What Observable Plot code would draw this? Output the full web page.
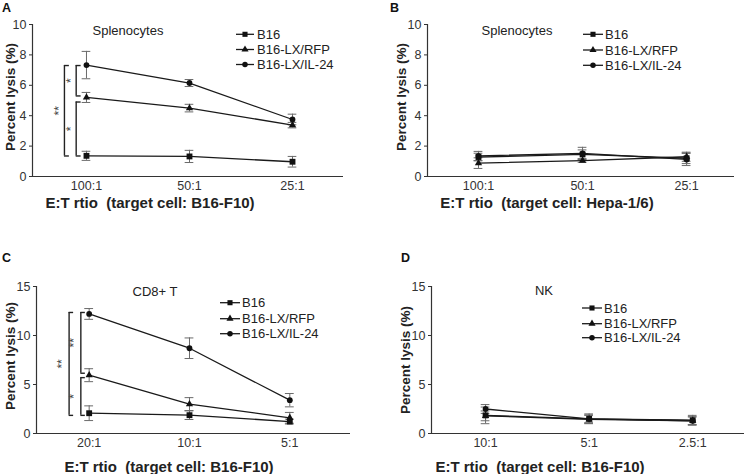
<!DOCTYPE html>
<html>
<head>
<meta charset="utf-8">
<script src="https://cdn.jsdelivr.net/npm/d3@7"></script>
<script src="https://cdn.jsdelivr.net/npm/@observablehq/plot@0.6"></script>
<style>
  html, body { margin: 0; padding: 0; background: #fff; }
  #root { position: relative; width: 745px; height: 474px; overflow: hidden; font-family: Arial, "Liberation Sans", sans-serif; }
  #root svg.plot { position: absolute; }
</style>
</head>
<body>
<div id="root"></div>
<script>
// ---------- data ----------
const seriesNames = ["B16", "B16-LX/RFP", "B16-LX/IL-24"];
const seriesSymbols = ["square", "triangle", "circle"];

// Panel A: splenocytes vs B16-F10
const ratiosA = ["100:1", "50:1", "25:1"];
const lysisA_B16  = [1.36, 1.32, 0.97];
const errA_B16    = [0.30, 0.40, 0.35];
const lysisA_RFP  = [5.20, 4.50, 3.38];
const errA_RFP    = [0.33, 0.25, 0.18];
const lysisA_IL24 = [7.33, 6.15, 3.75];
const errA_IL24   = [0.90, 0.23, 0.35];

// Panel B: splenocytes vs Hepa-1/6
const ratiosB = ["100:1", "50:1", "25:1"];
const lysisB_B16  = [1.28, 1.45, 1.20];
const errB_B16    = [0.25, 0.30, 0.35];
const lysisB_RFP  = [0.88, 1.05, 1.30];
const errB_RFP    = [0.35, 0.12, 0.30];
const lysisB_IL24 = [1.35, 1.52, 1.12];
const errB_IL24   = [0.30, 0.40, 0.40];

// Panel C: CD8+ T vs B16-F10
const ratiosC = ["20:1", "10:1", "5:1"];
const lysisC_B16  = [2.07, 1.87, 1.22];
const errC_B16    = [0.75, 0.44, 0.25];
const lysisC_RFP  = [5.95, 3.00, 1.60];
const errC_RFP    = [0.66, 0.66, 0.55];
const lysisC_IL24 = [12.2, 8.70, 3.40];
const errC_IL24   = [0.55, 1.05, 0.68];

// Panel D: NK vs B16-F10
const ratiosD = ["10:1", "5:1", "2.5:1"];
const lysisD_B16  = [1.85, 1.50, 1.35];
const errD_B16    = [0.85, 0.50, 0.50];
const lysisD_RFP  = [1.80, 1.45, 1.30];
const errD_RFP    = [0.50, 0.40, 0.40];
const lysisD_IL24 = [2.50, 1.50, 1.30];
const errD_IL24   = [0.45, 0.40, 0.40];

// significance brackets (y-levels in % lysis)
const sigA_from  = [7.3, 4.9, 7.3];
const sigA_to    = [5.3, 1.35, 1.35];
const sigA_label = ["*", "*", "**"];
const sigC_from  = [12.35, 5.7, 12.35];
const sigC_to    = [6.15, 1.85, 1.85];
const sigC_label = ["**", "*", "**"];

const yTicksA = [0, 2, 4, 6, 8, 10];
const yTicksC = [0, 5, 10, 15];

// ---------- build ----------
function rows(ratios, sets) {
  const out = [];
  sets.forEach(([vals, errs], s) => {
    vals.forEach((v, i) => out.push({series: seriesNames[s], sym: seriesSymbols[s], i, ratio: ratios[i], v, e: errs[i]}));
  });
  return out;
}

function panel(cfg) {
  const data = rows(cfg.ratios, cfg.sets);
  const marks = [
    Plot.ruleY([0], {stroke: "#333", strokeWidth: 1.2}),
    Plot.ruleX([cfg.xDomain[0]], {stroke: "#333", strokeWidth: 1.2}),
    Plot.axisY({ticks: cfg.yTicks, tickSize: 3, tickPadding: 3, label: null, tickFormat: d => String(d), stroke: "#333"}),
    Plot.axisX({ticks: [0, 1, 2], tickFormat: i => cfg.ratios[i], tickSize: 0, tickPadding: 5, label: null}),
    Plot.ruleX(data, {x: "i", y1: d => d.v - d.e, y2: d => d.v + d.e, stroke: "#6a6a6a", strokeWidth: 1}),
    Plot.ruleY(data, {y: d => d.v + d.e, x1: d => d.i - cfg.cap, x2: d => d.i + cfg.cap, stroke: "#6a6a6a", strokeWidth: 1}),
    Plot.ruleY(data, {y: d => d.v - d.e, x1: d => d.i - cfg.cap, x2: d => d.i + cfg.cap, stroke: "#6a6a6a", strokeWidth: 1}),
    Plot.line(data, {x: "i", y: "v", z: "series", stroke: "#1a1a1a", strokeWidth: 1.3}),
    Plot.dot(data.filter(d => d.sym === "square"), {x: "i", y: "v", symbol: "square", r: 3.3, fill: "#111", stroke: "none"}),
    Plot.dot(data.filter(d => d.sym === "triangle"), {x: "i", y: "v", symbol: "triangle", r: 2.7, fill: "#111", stroke: "none"}),
    Plot.dot(data.filter(d => d.sym === "circle"), {x: "i", y: "v", symbol: "circle", r: 2.9, fill: "#111", stroke: "none"})
  ];
  if (cfg.sig) {
    const b = cfg.sig.from.map((f, k) => ({x: cfg.sig.xs[k], y1: f, y2: cfg.sig.to[k], label: cfg.sig.label[k]}));
    marks.push(
      Plot.ruleX(b, {x: "x", y1: "y1", y2: "y2", stroke: "#222", strokeWidth: 1.4}),
      Plot.ruleY(b, {y: "y1", x1: "x", x2: d => d.x + cfg.sig.tick, stroke: "#222", strokeWidth: 1.4}),
      Plot.ruleY(b, {y: "y2", x1: "x", x2: d => d.x + cfg.sig.tick, stroke: "#222", strokeWidth: 1.4}),
      Plot.text(b, {x: d => d.x - cfg.sig.starGap, y: d => (d.y1 + d.y2) / 2, text: "label", rotate: -90, fill: "#444", fontSize: 12})
    );
  }
  const svg = Plot.plot({
    width: cfg.width, height: cfg.height,
    marginLeft: cfg.m[0], marginTop: cfg.m[1], marginRight: cfg.m[2], marginBottom: cfg.m[3],
    x: {type: "linear", domain: cfg.xDomain, axis: null},
    y: {domain: [0, cfg.yTicks[cfg.yTicks.length - 1]], axis: null},
    style: {fontFamily: "Arial, 'Liberation Sans', sans-serif", fontSize: "12.5px", color: "#333", background: "transparent", overflow: "visible"},
    marks
  });
  svg.classList.add("plot");
  svg.style.left = cfg.left + "px";
  svg.style.top = cfg.top + "px";
  document.getElementById("root").appendChild(svg);
}

panel({ratios: ratiosA, sets: [[lysisA_B16, errA_B16], [lysisA_RFP, errA_RFP], [lysisA_IL24, errA_IL24]],
  yTicks: yTicksA, xDomain: [-0.524, 2.495], width: 372, height: 237, m: [32, 24, 29, 61], left: 0, top: 0, cap: 0.042,
  sig: {from: sigA_from, to: sigA_to, label: sigA_label, xs: [-0.1, -0.1, -0.214], tick: 0.048, starGap: 0.05}});
panel({ratios: ratiosB, sets: [[lysisB_B16, errB_B16], [lysisB_RFP, errB_RFP], [lysisB_IL24, errB_IL24]],
  yTicks: yTicksA, xDomain: [-0.49, 2.46], width: 373, height: 237, m: [55, 24, 11, 61], left: 372, top: 0, cap: 0.042});
panel({ratios: ratiosC, sets: [[lysisC_B16, errC_B16], [lysisC_RFP, errC_RFP], [lysisC_IL24, errC_IL24]],
  yTicks: yTicksC, xDomain: [-0.525, 2.605], width: 372, height: 237, m: [36, 49, 22, 41], left: 0, top: 237, cap: 0.044,
  sig: {from: sigC_from, to: sigC_to, label: sigC_label, xs: [-0.083, -0.083, -0.2], tick: 0.045, starGap: 0.07}});
panel({ratios: ratiosD, sets: [[lysisD_B16, errD_B16], [lysisD_RFP, errD_RFP], [lysisD_IL24, errD_IL24]],
  yTicks: yTicksC, xDomain: [-0.522, 2.5], width: 373, height: 237, m: [59, 49, 1, 41], left: 372, top: 237, cap: 0.042});

// ---------- annotations overlay ----------
const ov = d3.select("#root").append("svg")
  .attr("width", 745).attr("height", 474)
  .style("position", "absolute").style("left", 0).style("top", 0)
  .style("font-family", "Arial, 'Liberation Sans', sans-serif");

const letters = [["A", 2, 12], ["B", 390, 12], ["C", 2, 262], ["D", 401, 262]];
letters.forEach(([t, x, y]) => ov.append("text").attr("x", x).attr("y", y).attr("font-size", 12.5).attr("font-weight", "bold").attr("fill", "#111").text(t));

const titles = [["Splenocytes", 128, 30], ["Splenocytes", 517, 30], ["CD8+ T", 155, 291], ["NK", 544, 290]];
titles.forEach(([t, x, y]) => ov.append("text").attr("x", x).attr("y", y).attr("dy", "0.35em").attr("text-anchor", "middle").attr("font-size", 13).attr("fill", "#222").text(t));

const xLabels = [["E:T rtio  (target cell: B16-F10)", 150, 203], ["E:T rtio  (target cell: Hepa-1/6)", 547, 203],
                 ["E:T rtio  (target cell: B16-F10)", 169, 467], ["E:T rtio  (target cell: B16-F10)", 540, 467]];
xLabels.forEach(([t, x, y]) => ov.append("text").attr("x", x).attr("y", y).attr("dy", "0.35em").attr("text-anchor", "middle")
  .attr("font-size", 15).attr("font-weight", "bold").attr("fill", "#222").style("white-space", "pre").text(t));

const yLabels = [[10, 97], [401, 97], [10, 356], [405, 360]];
yLabels.forEach(([x, y]) => ov.append("text").attr("transform", `translate(${x},${y}) rotate(-90)`).attr("dy", "0.35em")
  .attr("text-anchor", "middle").attr("font-size", 13.5).attr("font-weight", "bold").attr("fill", "#222").text("Percent lysis (%)"));

const legends = [
  {x0: 236, x1: 254, tx: 257, ys: [34.3, 49.5, 64.5]},
  {x0: 583, x1: 603, tx: 605, ys: [34.3, 50, 65.3]},
  {x0: 220, x1: 240, tx: 242, ys: [302.7, 318.7, 333.7]},
  {x0: 582, x1: 602, tx: 604, ys: [308, 323.7, 337.7]}
];
const symMap = {square: d3.symbolSquare, triangle: d3.symbolTriangle, circle: d3.symbolCircle};
const symSize = {square: 26, triangle: 22, circle: 24};
legends.forEach(L => {
  seriesNames.forEach((name, k) => {
    const y = L.ys[k];
    ov.append("line").attr("x1", L.x0).attr("x2", L.x1).attr("y1", y).attr("y2", y).attr("stroke", "#1a1a1a").attr("stroke-width", 1.3);
    ov.append("path").attr("d", d3.symbol(symMap[seriesSymbols[k]], symSize[seriesSymbols[k]])())
      .attr("transform", `translate(${(L.x0 + L.x1) / 2},${y})`).attr("fill", "#111");
    ov.append("text").attr("x", L.tx).attr("y", y).attr("dy", "0.35em").attr("font-size", 13).attr("fill", "#222").text(name);
  });
});
</script>
</body>
</html>
